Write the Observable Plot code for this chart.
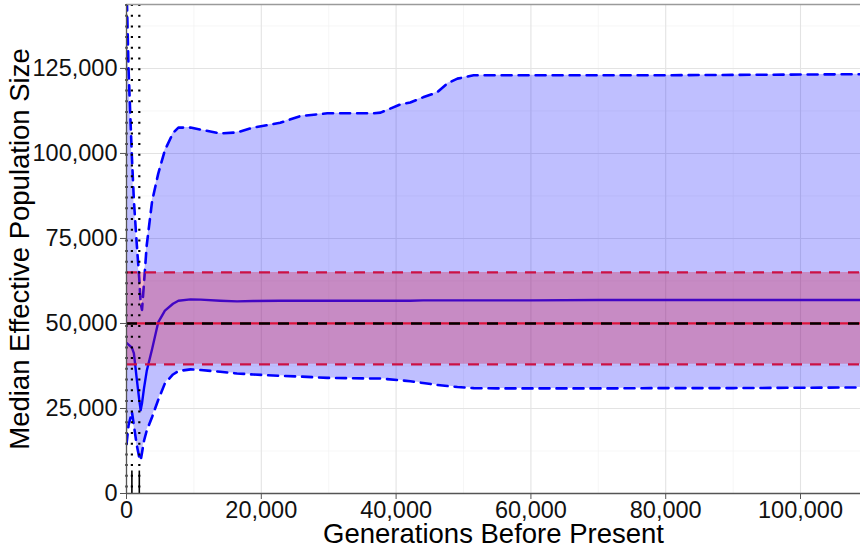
<!DOCTYPE html>
<html>
<head>
<meta charset="utf-8">
<script src="https://cdn.jsdelivr.net/npm/d3@7"></script>
<script src="https://cdn.jsdelivr.net/npm/@observablehq/plot@0.6"></script>
<style>
  html, body { margin: 0; padding: 0; background: #fff; }
  #chart svg { display: block; font-family: "Liberation Sans", Arial, sans-serif; }
</style>
</head>
<body>
<div id="chart"></div>
<script>
// Generations before present at which the trajectory was summarised
const generations = [0, 300, 800, 1100, 1500, 1900, 2100, 2300, 2600, 3000, 3800, 4700, 5700, 6900, 7700, 9500, 11000, 13900, 16400, 18800, 22800, 25800, 29800, 36600, 37700, 40600, 42100, 44000, 46100, 47600, 49100, 51500, 55000, 60000, 70000, 80000, 90000, 100000, 108900];
// Median effective population size and its credible interval
const medianNe = [44300, 43800, 42900, 41200, 34100, 27400, 24500, 26500, 31000, 36000, 42500, 50300, 53800, 55800, 56700, 57100, 57000, 56700, 56500, 56600, 56700, 56700, 56700, 56700, 56700, 56700, 56700, 56800, 56800, 56800, 56800, 56800, 56800, 56800, 56900, 56900, 56900, 56900, 56900];
const lowerNe = [14500, 20000, 24000, 20000, 14500, 10500, 9700, 12000, 15500, 18500, 22500, 27500, 32400, 35000, 36000, 36500, 36300, 35800, 35300, 35000, 34600, 34400, 34000, 33800, 33800, 33300, 33000, 32500, 31900, 31600, 31300, 31000, 30900, 30900, 30900, 31000, 31000, 31100, 31200];
const upperNe = [150000, 125000, 99000, 86000, 74000, 63000, 56000, 54000, 62000, 73000, 86000, 94000, 101000, 106000, 107600, 107600, 107000, 105900, 106200, 107600, 109000, 111000, 111800, 111800, 112000, 114400, 115000, 116500, 118000, 120600, 122000, 123000, 123000, 123000, 123000, 123000, 123100, 123200, 123300];

// True (simulated) population size and its reference band
const trueNe = 50000;
const trueBand = [38000, 65000];
// Generations at which events are marked
const eventGenerations = [0, 800, 1900];
const rugGenerations = [800, 1900];

// Axis ticks
const xTicks = [0, 20000, 40000, 60000, 80000, 100000];
const xMinor = [10000, 30000, 50000, 70000, 90000];
const yTicks = [0, 25000, 50000, 75000, 100000, 125000];
const yMinor = [12500, 37500, 62500, 87500, 112500, 137500];
const xDomain = [0, 108900];
const yDomain = [0, 143800];

const series = generations.map((g, i) => ({g, median: medianNe[i], lo: lowerNe[i], hi: upperNe[i]}));
const band = xDomain.map(g => ({g, lo: trueBand[0], hi: trueBand[1]}));
const font = "Liberation Sans, Arial, sans-serif";
const comma = d3.format(",");

const chart = Plot.plot({
  width: 860,
  height: 549,
  marginLeft: 126,
  marginRight: 0,
  marginTop: 4,
  marginBottom: 56,
  style: {fontFamily: font, background: "#fff"},
  x: {domain: xDomain, axis: null},
  y: {domain: yDomain, axis: null},
  marks: [
    // panel grid
    Plot.ruleX(xMinor, {stroke: "#f2f2f2", strokeWidth: 0.7}),
    Plot.ruleY(yMinor, {stroke: "#f2f2f2", strokeWidth: 0.7}),
    Plot.ruleX(xTicks, {stroke: "#e3e3e3", strokeWidth: 1.1}),
    Plot.ruleY(yTicks, {stroke: "#e3e3e3", strokeWidth: 1.1}),
    // posterior interval of Ne
    Plot.areaY(series, {x: "g", y1: "lo", y2: "hi", fill: "#0000ff", fillOpacity: 0.25, clip: true}),
    Plot.lineY(series, {x: "g", y: "hi", stroke: "#0000ff", strokeWidth: 2.6, strokeDasharray: "10,7", clip: true}),
    Plot.lineY(series, {x: "g", y: "lo", stroke: "#0000ff", strokeWidth: 2.6, strokeDasharray: "10,7", clip: true}),
    Plot.lineY(series, {x: "g", y: "median", stroke: "#0000ff", strokeWidth: 2.4, clip: true}),
    // reference band around the true Ne
    Plot.areaY(band, {x: "g", y1: "lo", y2: "hi", fill: "#dc143c", fillOpacity: 0.3}),
    Plot.ruleY([trueBand[0], trueBand[1]], {stroke: "#cc1144", strokeWidth: 2.3, strokeDasharray: "11,8"}),
    Plot.ruleY([trueNe], {stroke: "#dc143c", strokeWidth: 2.2}),
    Plot.ruleY([trueNe], {stroke: "#000", strokeWidth: 2.4, strokeDasharray: "11,8"}),
    // event markers
    Plot.ruleX(eventGenerations, {stroke: "#000", strokeWidth: 2.2, strokeDasharray: "2,8.7"}),
    Plot.ruleX(rugGenerations, {y1: 0, y2: 6600, stroke: "#000", strokeWidth: 1.6}),
    // panel edges and axes
    Plot.ruleY([yDomain[1]], {stroke: "#9a9a9a", strokeWidth: 1.5}),
    Plot.ruleX([0], {stroke: "#555", strokeWidth: 1.3}),
    Plot.ruleY([0], {stroke: "#555", strokeWidth: 1.3}),
    Plot.axisY({ticks: yTicks, tickSize: 6, text: null, stroke: "#555", label: null}),
    Plot.axisX({ticks: xTicks, tickSize: 6, text: null, stroke: "#555", label: null}),
    // tick labels
    Plot.text(yTicks, {y: d => d, frameAnchor: "left", textAnchor: "end", lineAnchor: "middle", dx: -9, text: comma, fontSize: 23.5, fill: "#111"}),
    Plot.text(xTicks, {x: d => d, frameAnchor: "bottom", textAnchor: "middle", lineAnchor: "top", dy: 8, text: comma, fontSize: 23.5, fill: "#111"}),
    // axis titles
    Plot.text(["Generations Before Present"], {frameAnchor: "bottom", lineAnchor: "middle", textAnchor: "middle", dy: 41, fontSize: 27.5, fill: "#000"}),
    Plot.text(["Median Effective Population Size"], {frameAnchor: "left", lineAnchor: "middle", textAnchor: "middle", dx: -106, rotate: -90, fontSize: 27.5, fill: "#000"})
  ]
});

document.getElementById("chart").append(chart);
</script>
</body>
</html>
